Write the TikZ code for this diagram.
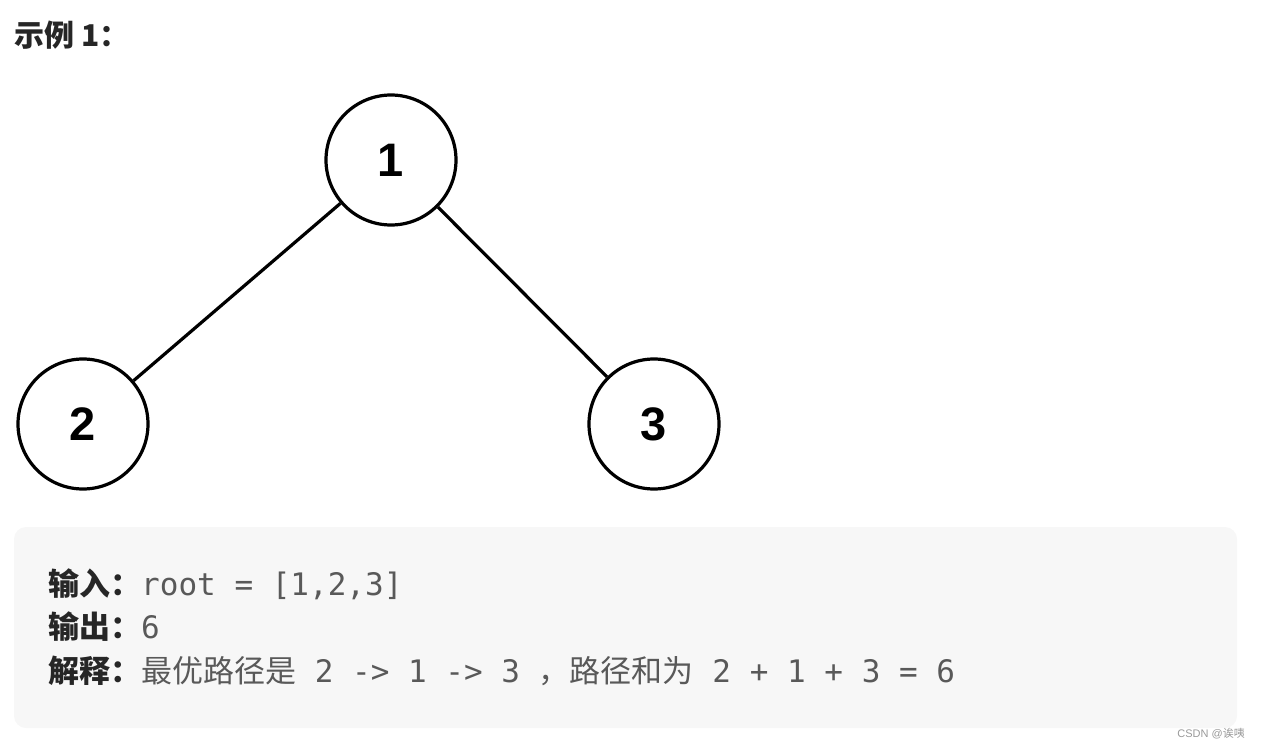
\documentclass[tikz,border=0pt]{standalone}
\usepackage{fontspec}
\setmainfont{Liberation Sans}
\setmonofont{DejaVu Sans Mono}
\newfontfamily\cjk{Noto Sans CJK SC}
\definecolor{boxgray}{HTML}{F7F7F7}
\definecolor{textgray}{HTML}{595959}
\definecolor{labeldark}{HTML}{262626}
\definecolor{markgray}{HTML}{999999}

\begin{document}
\begin{tikzpicture}[x=1pt, y=-1pt,
    treenode/.style={circle, draw, line width=3.2pt, minimum size=130pt, inner sep=0pt,
        font=\fontsize{47}{47}\selectfont\bfseries},
    treeedge/.style={line width=3.2pt},
    textline/.style={anchor=base west, inner sep=0pt, text=textgray,
        font=\fontsize{31}{31}\selectfont}]
    \useasboundingbox (0,0) rectangle (1261,747);
    \node[anchor=base west, inner sep=0pt, text=labeldark,
        font=\cjk\bfseries\fontsize{30}{30}\selectfont] (title) at (14,46) {示例 1：};
    % tree, cut off at the bottom and right
    \begin{scope}
        \clip (0,0) rectangle (721,491);
        \node[treenode] (n1) at (391,160) {1};
        \node[treenode] (n2) at (83,424) {2};
        \node[treenode] (n3) at (654,424) {3};
        \foreach \c in {n2, n3} {
            \draw[treeedge] (n1) -- (\c);
        }
    \end{scope}
    % example box
    \fill[boxgray, rounded corners=12pt] (14,527) rectangle (1237,728);
    \node[textline] (input) at (48,595)
        {{\cjk\bfseries\color{labeldark}输入：}\texttt{root = [1,2,3]}};
    \node[textline] (output) at (48,638)
        {{\cjk\bfseries\color{labeldark}输出：}\texttt{6}};
    \node[textline] (explain) at (48,682)
        {{\cjk\bfseries\color{labeldark}解释：}{\cjk 最优路径是}\texttt{ 2 -> 1 -> 3 }{\cjk ，路径和为}\texttt{ 2 + 1 + 3 = 6}};
    \node[anchor=base east, inner sep=0pt, text=markgray,
        font=\fontsize{11}{11}\selectfont] (mark) at (1245,737) {CSDN @{\cjk 诶咦}};
\end{tikzpicture}
\end{document}
